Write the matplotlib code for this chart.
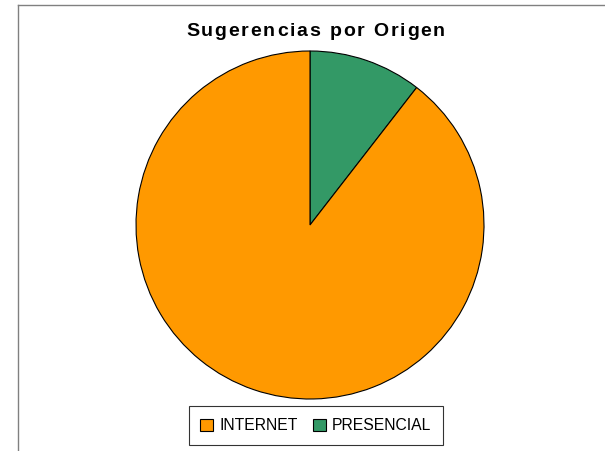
import matplotlib.pyplot as plt
from matplotlib.patches import Rectangle

labels = ["INTERNET", "PRESENCIAL"]
values = [89.5, 10.5]
colors = ["#FF9900", "#339966"]
title = "Sugerencias por Origen"

W, H = 605, 451
fig = plt.figure(figsize=(W / 100, H / 100), dpi=100)

# chart area frame (left and top edges visible)
fig.add_artist(plt.Line2D([18 / W, 18 / W], [0, 1 - 5 / H], color="#808080", lw=1))
fig.add_artist(plt.Line2D([18 / W, 1], [1 - 5 / H, 1 - 5 / H], color="#808080", lw=1))

cx, cy, r = 310, 225, 174
ax = fig.add_axes([(cx - r) / W, 1 - (cy + r) / H, 2 * r / W, 2 * r / H])
# green slice sits clockwise from 12 o'clock, orange fills the rest
ax.pie(values[::-1], colors=colors[::-1], startangle=90, counterclock=False,
       wedgeprops=dict(edgecolor="black", linewidth=0.8))
ax.set_xlim(-1, 1)
ax.set_ylim(-1, 1)
ax.set_aspect("auto")

# title with slight letter spacing, drawn char by char
font = dict(fontsize=14, fontweight="bold", family="Liberation Sans")
rend = fig.canvas.get_renderer()


def text_w(s):
    t = fig.text(0, 0, s, **font)
    w = t.get_window_extent(rend).width
    t.remove()
    return w


ref_w = text_w("x")
offsets = [text_w(title[:i] + "x") - ref_w for i in range(len(title))]
base_w = text_w(title)
target_w = 259
gap = max(0, (target_w - base_w) / (len(title) - 1))
x0 = 186
for i, ch in enumerate(title):
    if ch == " ":
        continue
    fig.text((x0 + offsets[i] + i * gap) / W, 1 - 36 / H, ch, ha="left", va="baseline", **font)

handles = [Rectangle((0, 0), 1, 1, facecolor=c, edgecolor="black", lw=0.8) for c in colors]
leg = fig.legend(handles, labels, loc="center", bbox_to_anchor=(316 / W, 1 - 425.5 / H),
                 ncol=2, frameon=True, fancybox=False, edgecolor="black",
                 prop={"family": "Liberation Sans", "size": 11.3},
                 handlelength=0.8, handleheight=0.8, handletextpad=0.4,
                 columnspacing=1.0, borderpad=0.75, borderaxespad=0)
leg.get_frame().set_linewidth(0.8)

fig.savefig("out.png", dpi=100)
